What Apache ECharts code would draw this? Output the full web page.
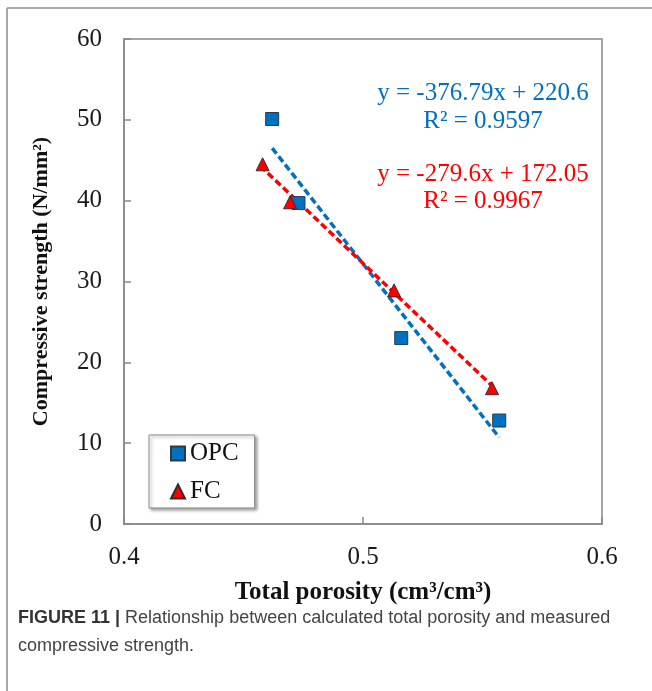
<!DOCTYPE html>
<html>
<head>
<meta charset="utf-8">
<script src="https://cdn.jsdelivr.net/npm/echarts@6/dist/echarts.min.js"></script>
<style>
html,body{margin:0;padding:0;background:#fff;}
#chart{width:652px;height:691px;}
</style>
</head>
<body>
<div id="chart"></div>
<script>
// ---- data ----
const xTicks = [0.4, 0.5, 0.6];
const yTicks = [0, 10, 20, 30, 40, 50, 60];
const opcPorosity = [0.462, 0.473, 0.516, 0.557];
const opcStrength = [50.1, 39.7, 23.0, 12.8];
const fcPorosity = [0.458, 0.4695, 0.513, 0.554];
const fcStrength = [44.5, 39.8, 28.9, 16.8];
const opcTrendX = [0.462, 0.557];
const opcTrendY = [46.5, 10.7];
const fcTrendX = [0.457, 0.554];
const fcTrendY = [44.3, 17.1];
const opcEquation = ['y = -376.79x + 220.6', 'R² = 0.9597'];
const fcEquation = ['y = -279.6x + 172.05', 'R² = 0.9967'];
const seriesNames = ['OPC', 'FC'];
const xTitle = 'Total porosity (cm³/cm³)';
const yTitle = 'Compressive strength (N/mm²)';
const captionBold = 'FIGURE 11 | ';
const captionLine1 = 'Relationship between calculated total porosity and measured';
const captionLine2 = 'compressive strength.';

const zip = (a, b) => a.map((v, i) => [v, b[i]]);
const BLUE = '#0070C0', RED = '#FF0000';
const serif = '"Liberation Serif", "Times New Roman", serif';
const sans = '"Liberation Sans", Arial, sans-serif';

const chart = echarts.init(document.getElementById('chart'), null, {renderer: 'canvas'});
chart.setOption({
  backgroundColor: '#fff',
  animation: false,
  grid: {left: 124, right: 50, top: 39, bottom: 167, show: true, borderColor: '#888', borderWidth: 1.5, backgroundColor: 'transparent'},
  xAxis: {
    type: 'value', min: xTicks[0], max: xTicks[xTicks.length - 1], interval: 0.1,
    axisLine: {show: true, lineStyle: {color: '#888', width: 1.5}},
    axisTick: {show: true, inside: true, length: 7, lineStyle: {color: '#888', width: 1.5}},
    splitLine: {show: false},
    axisLabel: {color: '#1a1a1a', fontFamily: serif, fontSize: 25, margin: 21, formatter: v => v.toFixed(1)},
    name: xTitle, nameLocation: 'middle', nameGap: 56,
    nameTextStyle: {color: '#111', fontFamily: serif, fontSize: 25, fontWeight: 'bold'}
  },
  yAxis: {
    type: 'value', min: yTicks[0], max: yTicks[yTicks.length - 1], interval: 10,
    axisLine: {show: true, lineStyle: {color: '#888', width: 1.5}},
    axisTick: {show: true, inside: true, length: 7, lineStyle: {color: '#888', width: 1.5}},
    splitLine: {show: false},
    axisLabel: {color: '#1a1a1a', fontFamily: serif, fontSize: 25, margin: 22},
    name: yTitle, nameLocation: 'middle', nameGap: 72, nameRotate: 90,
    nameTextStyle: {color: '#111', fontFamily: serif, fontSize: 22, fontWeight: 'bold'}
  },
  legend: {
    data: [
      {name: seriesNames[0], icon: 'rect'},
      {name: seriesNames[1], icon: 'triangle'}
    ],
    orient: 'vertical', left: 149, top: 435,
    padding: [6, 16, 4, 21], itemGap: 13, itemWidth: 14, itemHeight: 14,
    backgroundColor: '#fff', borderColor: '#888', borderWidth: 1,
    shadowColor: 'rgba(0,0,0,0.35)', shadowBlur: 3, shadowOffsetX: 2, shadowOffsetY: 2,
    textStyle: {color: '#111', fontFamily: serif, fontSize: 25}
  },
  graphic: [
    {type: 'line', silent: true, shape: {x1: 7, y1: 8, x2: 652, y2: 8}, style: {stroke: '#a8a8a8', lineWidth: 2}},
    {type: 'line', silent: true, shape: {x1: 7, y1: 8, x2: 7, y2: 691}, style: {stroke: '#a8a8a8', lineWidth: 2}},
    {type: 'text', silent: true, style: {text: opcEquation[0], x: 483, y: 93, textAlign: 'center', textVerticalAlign: 'middle', fill: BLUE, font: '25px ' + serif}},
    {type: 'text', silent: true, style: {text: opcEquation[1], x: 483, y: 121, textAlign: 'center', textVerticalAlign: 'middle', fill: BLUE, font: '25px ' + serif}},
    {type: 'text', silent: true, style: {text: fcEquation[0], x: 483, y: 174, textAlign: 'center', textVerticalAlign: 'middle', fill: RED, font: '25px ' + serif}},
    {type: 'text', silent: true, style: {text: fcEquation[1], x: 483, y: 201, textAlign: 'center', textVerticalAlign: 'middle', fill: RED, font: '25px ' + serif}},
    {type: 'text', silent: true, style: {
      x: 18, y: 618, textVerticalAlign: 'middle',
      text: '{b|' + captionBold + '}{n|' + captionLine1 + '}',
      rich: {
        b: {fontFamily: sans, fontWeight: 'bold', fontSize: 18, fill: '#333'},
        n: {fontFamily: sans, fontSize: 18, fill: '#444'}
      }
    }},
    {type: 'text', silent: true, style: {x: 18, y: 646, textVerticalAlign: 'middle', text: captionLine2, fill: '#444', font: '18px ' + sans}}
  ],
  series: [
    {
      name: 'OPC trend', type: 'line', showSymbol: false, symbol: 'none', z: 2, silent: true,
      lineStyle: {color: BLUE, width: 3.5, type: [7, 3.5]},
      data: zip(opcTrendX, opcTrendY)
    },
    {
      name: 'FC trend', type: 'line', showSymbol: false, symbol: 'none', z: 2, silent: true,
      lineStyle: {color: RED, width: 3.5, type: [7, 3.5]},
      data: zip(fcTrendX, fcTrendY)
    },
    {
      name: seriesNames[0], type: 'scatter', symbol: 'rect', symbolSize: 13, z: 3,
      itemStyle: {color: BLUE, opacity: 1, borderColor: '#2b3a4a', borderWidth: 1},
      data: zip(opcPorosity, opcStrength)
    },
    {
      name: seriesNames[1], type: 'scatter', symbol: 'triangle', symbolSize: 13, z: 3,
      itemStyle: {color: RED, opacity: 1, borderColor: '#3a2a2a', borderWidth: 1},
      data: zip(fcPorosity, fcStrength)
    }
  ]
});
</script>
</body>
</html>
